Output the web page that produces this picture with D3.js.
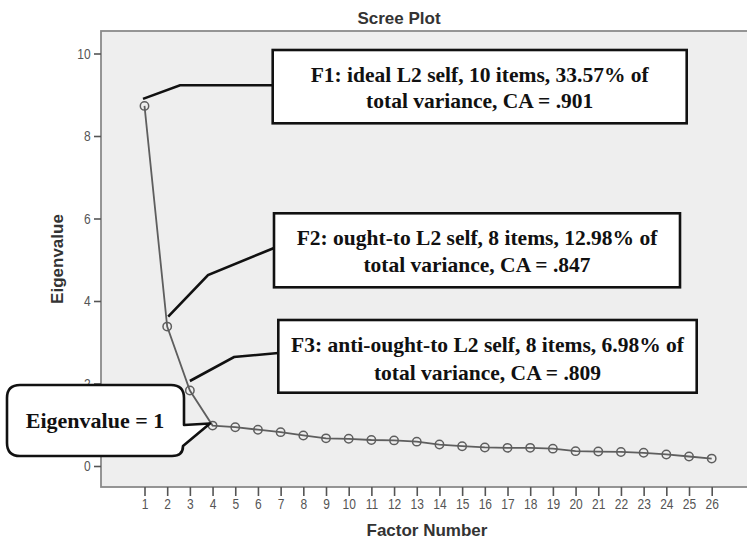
<!DOCTYPE html>
<html><head><meta charset="utf-8">
<script src="https://cdn.jsdelivr.net/npm/d3@7"></script>
<style>body{margin:0;background:#fff}</style>
</head><body>
<svg id="c" width="747" height="540"></svg>
<script>
const factorNumbers = [1,2,3,4,5,6,7,8,9,10,11,12,13,14,15,16,17,18,19,20,21,22,23,24,25,26];
const eigenvalues = [8.73,3.38,1.83,0.98,0.94,0.88,0.82,0.74,0.67,0.66,0.63,0.62,0.59,0.52,0.48,0.45,0.44,0.44,0.42,0.36,0.35,0.34,0.32,0.28,0.23,0.18];
const yTickValues = [0,2,4,6,8,10];
const chartTitle = "Scree Plot";
const xTitle = "Factor Number";
const yTitle = "Eigenvalue";
const annotationFactors = [1,2,3];
const annotationTexts = [
  ["F1: ideal L2 self, 10 items, 33.57% of", "total variance, CA = .901"],
  ["F2: ought-to L2 self, 8 items, 12.98% of", "total variance, CA = .847"],
  ["F3: anti-ought-to L2 self, 8 items, 6.98% of", "total variance, CA = .809"]
];
const cutoffFactor = 4;
const cutoffLabel = "Eigenvalue = 1";

const svg = d3.select("#c");
const plot = {left:101, top:31, right:770, bottom:487};
const x = d3.scaleLinear().domain([1,26]).range([144.5,711.7]);
const y = d3.scaleLinear().domain([0,10]).range([466,53.5]);
const sans = "'Liberation Sans', Arial, Helvetica, sans-serif";
const serif = "'Liberation Serif', 'Times New Roman', Times, serif";

svg.append("rect")
  .attr("x",plot.left).attr("y",plot.top)
  .attr("width",plot.right-plot.left).attr("height",plot.bottom-plot.top)
  .attr("fill","#eeeeee").attr("stroke","#8a8a8a").attr("stroke-width",1.8);

// y axis
const yAxis = svg.append("g").attr("transform",`translate(${plot.left},0)`)
  .call(d3.axisLeft(y).tickValues(yTickValues).tickSize(7).tickPadding(3));
yAxis.select(".domain").remove();
yAxis.selectAll(".tick line").attr("stroke","#555").attr("stroke-width",1.6);
yAxis.selectAll(".tick text").attr("x",-13).attr("fill","#555")
  .style("font-family",sans).style("font-size","15px").attr("transform","scale(0.8,1)");

// x axis
const xAxis = svg.append("g").attr("transform",`translate(0,${plot.bottom})`)
  .call(d3.axisBottom(x).tickValues(factorNumbers).tickSize(9).tickPadding(2));
xAxis.select(".domain").remove();
xAxis.selectAll(".tick line").attr("stroke","#555").attr("stroke-width",1.6);
xAxis.selectAll(".tick text").attr("fill","#555")
  .style("font-family",sans).style("font-size","15px").attr("transform","scale(0.8,1)");

// titles
svg.append("text").attr("x",399).attr("y",24).attr("text-anchor","middle")
  .style("font-family",sans).style("font-size","17px").style("font-weight","bold")
  .attr("fill","#333").text(chartTitle);
svg.append("text").attr("x",427).attr("y",536).attr("text-anchor","middle")
  .style("font-family",sans).style("font-size","17px").style("font-weight","bold")
  .attr("fill","#333").text(xTitle);
svg.append("text").attr("transform","translate(63,259) rotate(-90)").attr("text-anchor","middle")
  .style("font-family",sans).style("font-size","17px").style("font-weight","bold")
  .attr("fill","#333").text(yTitle);

// data line + markers
const pts = factorNumbers.map((f,i)=>[f,eigenvalues[i]]);
svg.append("path").datum(pts)
  .attr("d",d3.line().x(d=>x(d[0])).y(d=>y(d[1])))
  .attr("fill","none").attr("stroke","#5e5e5e").attr("stroke-width",1.8);
svg.selectAll("circle.pt").data(pts).join("circle").attr("class","pt")
  .attr("cx",d=>x(d[0])).attr("cy",d=>y(d[1])).attr("r",4.2)
  .attr("fill","none").attr("stroke","#5e5e5e").attr("stroke-width",1.5);

// annotation boxes (layout)
const boxes = [
  {x:272.7, y:50, w:414, h:73.3, b1:81.7, b2:108.3, off:[-1.5,-7], elbow:[180,85.3], attachY:85.3},
  {x:274, y:213.3, w:406, h:74, b1:245, b2:271.7, off:[1,-10], elbow:[208,275], attachY:248},
  {x:278.3, y:320, w:418.4, h:72.7, b1:351.7, b2:380, off:[0,-9.5], elbow:[234,357], attachY:353}
];
boxes.forEach((b,i)=>{
  const f = annotationFactors[i];
  const px = x(f)+b.off[0], py = y(eigenvalues[f-1])+b.off[1];
  svg.append("path")
    .attr("d",`M${px},${py}L${b.elbow[0]},${b.elbow[1]}L${b.x},${b.attachY}`)
    .attr("fill","none").attr("stroke","#111").attr("stroke-width",2.6);
  svg.append("rect").attr("x",b.x).attr("y",b.y).attr("width",b.w).attr("height",b.h)
    .attr("fill","#fff").attr("stroke","#111").attr("stroke-width",2.6);
  [b.b1,b.b2].forEach((by,j)=>{
    svg.append("text").attr("x",b.x+b.w/2).attr("y",by).attr("text-anchor","middle")
      .style("font-family",serif).style("font-size","21.5px").style("font-weight","bold")
      .attr("fill","#111").text(annotationTexts[i][j]);
  });
});

// callout
const tipX = x(cutoffFactor)-2.6, tipY = y(eigenvalues[cutoffFactor-1])-2;
const L=7, T=385, R=184, B=456, r=13;
svg.append("path")
  .attr("d",`M${L+r},${T}H${R-r}Q${R},${T} ${R},${T+r}V425L${tipX},${tipY}L${R-1},446Q${R-1},${B} ${R-12},${B}H${L+r}Q${L},${B} ${L},${B-r}V${T+r}Q${L},${T} ${L+r},${T}Z`)
  .attr("fill","#fff").attr("stroke","#111").attr("stroke-width",2.6).attr("stroke-linejoin","round");
svg.append("text").attr("x",95).attr("y",428.3).attr("text-anchor","middle")
  .style("font-family",serif).style("font-size","22px").style("font-weight","bold")
  .attr("fill","#111").text(cutoffLabel);
</script>
</body></html>
